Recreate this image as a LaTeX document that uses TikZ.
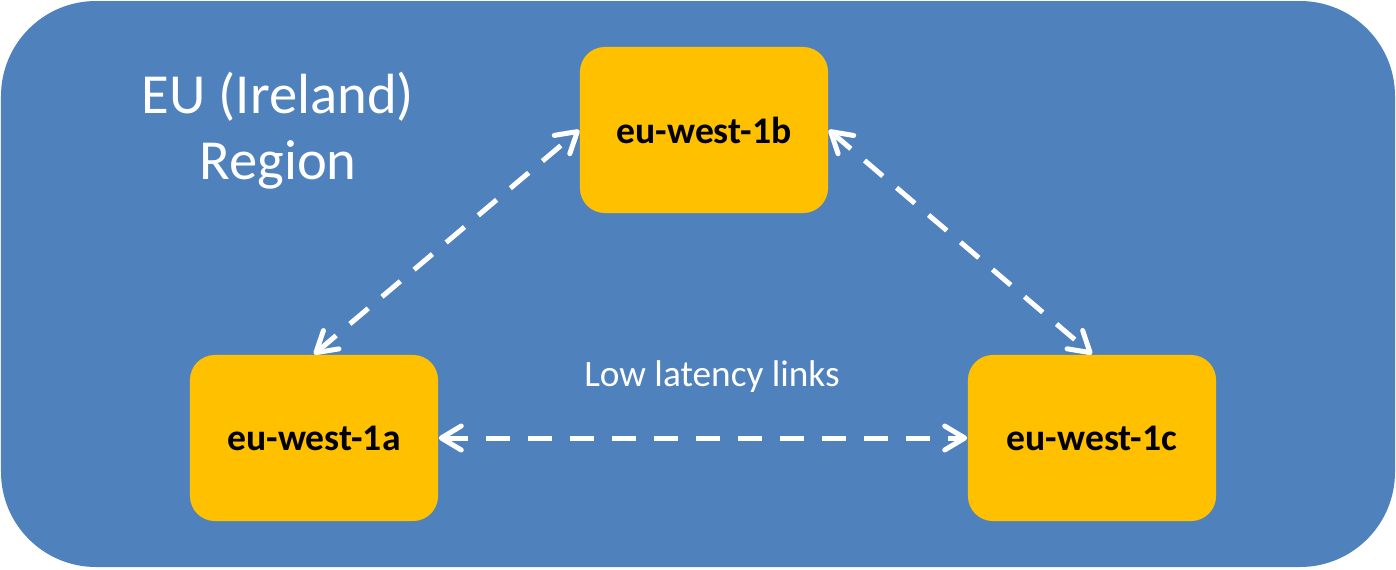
\documentclass[tikz,border=0pt]{standalone}
\usepackage{fontspec}
\setmainfont{Carlito}
\usetikzlibrary{arrows.meta}
\definecolor{regionblue}{HTML}{4F81BD}
\definecolor{zoneorange}{HTML}{FFC000}
\tikzset{
  zone/.style={fill=zoneorange, rounded corners=0.25cm, minimum width=2.48cm,
    minimum height=1.66cm, inner sep=0pt, font=\fontsize{10.7}{12}\selectfont\bfseries},
  link/.style={draw=white, line width=0.05cm, dash pattern=on 0.24cm off 0.18cm,
    {Straight Barb[round, length=2mm, width=2.4mm]}-{Straight Barb[round, length=2mm, width=2.4mm]}}
}

\begin{document}
\begin{tikzpicture}[x=0.01cm, y=-0.01cm]
  \useasboundingbox (0,0) rectangle (1396,569);
  % Region
  \fill[regionblue, rounded corners=0.95cm] (1,1) rectangle (1395,567);
  \node[white, align=center, anchor=base, font=\fontsize{16.1}{18.5}\selectfont] (region) at (278,179) {EU (Ireland)\\Region};
  % Availability zones
  \node[zone] (zb) at (704,130) {eu-west-1b};
  \node[zone] (za) at (314,438) {eu-west-1a};
  \node[zone] (zc) at (1092,438) {eu-west-1c};
  % Links
  \draw[link] (za.north) -- (zb.west);
  \draw[link] (zb.east) -- (zc.north);
  \draw[link] (za.east) -- (zc.west);
  \node[white, anchor=base, font=\fontsize{10.6}{12}\selectfont] (lbl) at (712,386) {Low latency links};
\end{tikzpicture}
\end{document}
